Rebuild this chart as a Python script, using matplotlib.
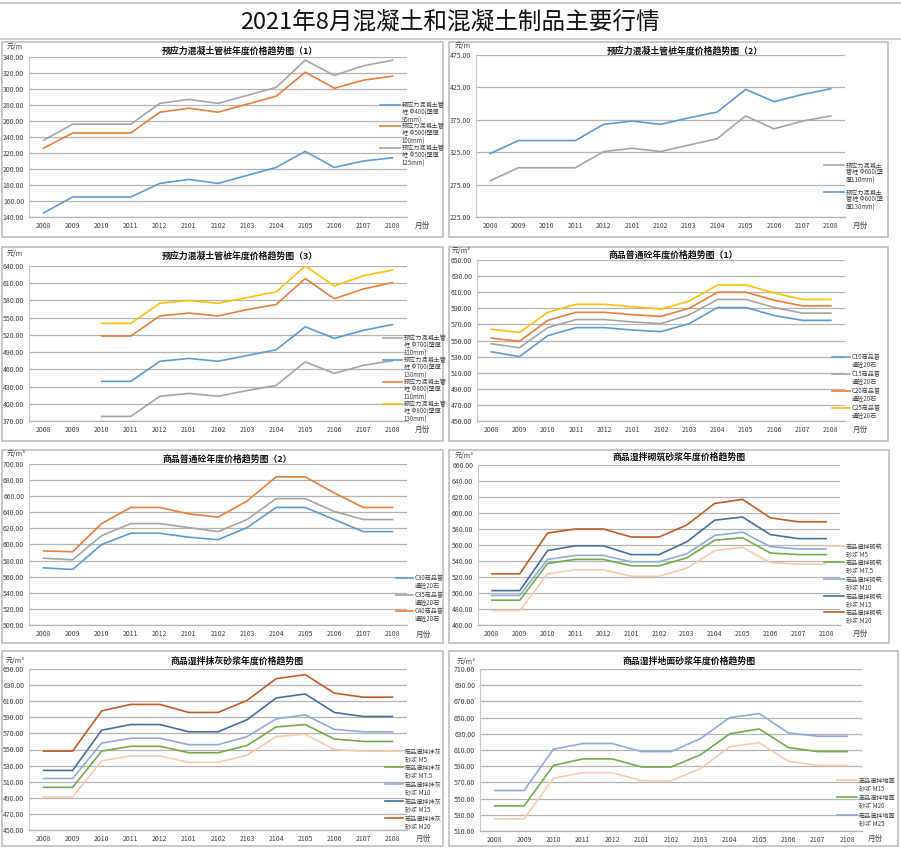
import matplotlib
matplotlib.use("Agg")
import matplotlib.pyplot as plt
from matplotlib.lines import Line2D
from matplotlib.patches import Rectangle
import numpy as np

plt.rcParams['font.family'] = ['Noto Sans CJK SC', 'DejaVu Sans']

# ---------------------------------------------------------------- data
months = ['2008', '2009', '2010', '2011', '2012', '2101', '2102',
          '2103', '2104', '2105', '2106', '2107', '2108']

# 预应力混凝土管桩年度价格趋势图（1）
pile1_names = ['预应力混凝土管\n桩 Φ400(壁厚\n95mm)',
               '预应力混凝土管\n桩 Φ500(壁厚\n100mm)',
               '预应力混凝土管\n桩 Φ500(壁厚\n125mm)']
pile_d400_95 = [145, 165, 165, 165, 182, 187, 182, 192, 202, 222, 202, 210, 214]
pile_d500_100 = [226, 245, 245, 245, 271, 276, 271, 281, 291, 321, 301, 311, 316]
pile_d500_125 = [236, 256, 256, 256, 282, 287, 282, 292, 302, 336, 317, 329, 336]

# 预应力混凝土管桩年度价格趋势图（2）
pile2_names = ['预应力混凝土\n管桩 Φ600(壁\n厚110mm)',
               '预应力混凝土\n管桩 Φ600(壁\n厚130mm)']
pile_d600_110 = [281, 301, 301, 301, 326, 331, 326, 336, 346, 381, 361, 373, 381]
pile_d600_130 = [323, 343, 343, 343, 368, 373, 368, 378, 387, 422, 403, 414, 423]

# 预应力混凝土管桩年度价格趋势图（3）
pile3_names = ['预应力混凝土管\n桩 Φ700(壁厚\n110mm)',
               '预应力混凝土管\n桩 Φ700(壁厚\n130mm)',
               '预应力混凝土管\n桩 Φ800(壁厚\n110mm)',
               '预应力混凝土管\n桩 Φ800(壁厚\n130mm)']
nan = np.nan
pile_d700_110 = [nan, nan, 378, 378, 413, 418, 413, 423, 432, 473, 453, 467, 475]
pile_d700_130 = [nan, nan, 439, 439, 474, 479, 474, 484, 494, 534, 514, 528, 538]
pile_d800_110 = [nan, nan, 518, 518, 553, 558, 553, 564, 573, 618, 583, 600, 611]
pile_d800_130 = [nan, nan, 540, 540, 575, 580, 575, 585, 595, 640, 605, 623, 633]

# 商品普通砼年度价格趋势图（1）
conc1_names = ['C10商品普\n通砼20石', 'C15商品普\n通砼20石',
               'C20商品普\n通砼20石', 'C25商品普\n通砼20石']
conc_c10 = [536, 530, 556, 566, 566, 563, 561, 571, 591, 591, 581, 575, 575]
conc_c15 = [546, 541, 566, 576, 576, 573, 571, 582, 601, 601, 591, 584, 584]
conc_c20 = [553, 549, 575, 585, 585, 582, 580, 590, 610, 610, 600, 593, 593]
conc_c25 = [564, 560, 585, 595, 595, 592, 589, 599, 619, 619, 609, 601, 601]

# 商品普通砼年度价格趋势图（2）
conc2_names = ['C30商品普\n通砼20石', 'C35商品普\n通砼20石', 'C40商品普\n通砼20石']
conc_c30 = [571, 569, 600, 614, 614, 609, 606, 621, 646, 646, 631, 616, 616]
conc_c35 = [583, 581, 611, 626, 626, 621, 616, 631, 657, 657, 641, 631, 631]
conc_c40 = [592, 591, 626, 646, 646, 638, 634, 654, 684, 684, 664, 646, 646]

# 商品湿拌砌筑砂浆年度价格趋势图
mason_names = ['商品湿拌砌筑\n砂浆 M5', '商品湿拌砌筑\n砂浆 M7.5', '商品湿拌砌筑\n砂浆 M10',
               '商品湿拌砌筑\n砂浆 M15', '商品湿拌砌筑\n砂浆 M20']
mason_m5 = [478, 478, 524, 529, 529, 521, 521, 531, 553, 557, 538, 536, 536]
mason_m75 = [491, 491, 537, 542, 542, 534, 534, 544, 566, 569, 550, 548, 548]
mason_m10 = [497, 497, 542, 547, 547, 539, 539, 549, 572, 576, 558, 555, 555]
mason_m15 = [503, 503, 553, 559, 559, 548, 548, 564, 591, 595, 573, 568, 568]
mason_m20 = [524, 524, 575, 580, 580, 570, 570, 585, 612, 617, 594, 589, 589]

# 商品湿拌抹灰砂浆年度价格趋势图
plaster_names = ['商品湿拌抹灰\n砂浆 M5', '商品湿拌抹灰\n砂浆 M7.5', '商品湿拌抹灰\n砂浆 M10',
                 '商品湿拌抹灰\n砂浆 M15', '商品湿拌抹灰\n砂浆 M20']
plaster_m5 = [491, 491, 536, 542, 542, 534, 534, 543, 566, 569, 550, 548, 548]
plaster_m75 = [503, 503, 548, 554, 554, 546, 546, 555, 578, 581, 563, 560, 560]
plaster_m10 = [514, 514, 558, 564, 564, 556, 556, 566, 588, 593, 575, 572, 572]
plaster_m15 = [524, 524, 574, 581, 581, 572, 572, 587, 614, 619, 596, 591, 591]
plaster_m20 = [548, 548, 598, 606, 606, 596, 596, 611, 638, 643, 620, 615, 615]

# 商品湿拌地面砂浆年度价格趋势图
floor_names = ['商品湿拌地面\n砂浆 M15', '商品湿拌地面\n砂浆 M20', '商品湿拌地面\n砂浆 M25']
floor_m15 = [525, 525, 575, 582, 582, 572, 572, 587, 614, 619, 596, 591, 591]
floor_m20 = [541, 541, 591, 599, 599, 589, 589, 604, 630, 636, 613, 608, 608]
floor_m25 = [560, 560, 611, 618, 618, 608, 608, 624, 650, 655, 631, 627, 627]

# ---------------------------------------------------------------- colours
BLUE, ORANGE, GRAY, YELLOW = '#5B9BD5', '#ED7D31', '#A5A5A5', '#FFC000'
PINK, GREEN, LAV, DBLUE, BROWN = '#F8CBAD', '#70AD47', '#8FAADC', '#41719C', '#C65A20'

W, H = 901, 860
fig = plt.figure(figsize=(W / 100, H / 100), dpi=100)


def fx(x):
    return x / W


def fy(y):
    return 1 - y / H


# sheet lines and main title
for yy in (3, 39):
    fig.add_artist(Line2D([0, 1], [fy(yy), fy(yy)], transform=fig.transFigure,
                          color='#c8c8c8', lw=1.2))
fig.text(fx(450), fy(22), '2021年8月混凝土和混凝土制品主要行情', ha='center', va='center',
         fontsize=17, color='#111111')


def panel(frame, area, title, title_x, title_y, unit, unit_pos, series, names, colors,
          ylim, ystep, leg, month_pos):
    # chart border
    l, t, r, b = frame
    fig.add_artist(Rectangle((fx(l), fy(b)), fx(r - l), (b - t) / H, transform=fig.transFigure,
                             fill=False, edgecolor='#bfbfbf', lw=1.2))
    l, t, r, b = area
    ax = fig.add_axes([fx(l), fy(b), fx(r - l), (b - t) / H])
    x = np.arange(len(months))
    for s, c in zip(series, colors):
        ax.plot(x, s, color=c, lw=1.2, zorder=3)
    ax.set_xlim(-0.5, len(months) - 0.5)
    ax.set_ylim(*ylim)
    yt = np.arange(ylim[0], ylim[1] + 0.1, ystep)
    ax.set_yticks(yt)
    ax.set_yticklabels(['%.2f' % v for v in yt])
    ax.set_xticks(x)
    ax.set_xticklabels(months)
    ax.tick_params(length=0, labelsize=5, colors='#404040', pad=3.5)
    ax.grid(axis='y', color='#b4b4b4', lw=0.9, zorder=0)
    for side in ('top', 'right'):
        ax.spines[side].set_visible(False)
    ax.spines['left'].set_color('#c8c8c8')
    ax.spines['left'].set_linewidth(0.8)
    ax.spines['bottom'].set_color('#b4b4b4')
    ax.spines['bottom'].set_linewidth(0.9)
    ax.patch.set_alpha(0)

    fig.text(fx(title_x), fy(title_y), title, ha='center', va='center', fontsize=6.4,
             fontweight='bold', color='#111111')
    fig.text(fx(unit_pos[0]), fy(unit_pos[1]), unit, ha='left', va='center', fontsize=5,
             color='#404040')
    fig.text(fx(month_pos[0]), fy(month_pos[1]), '月份', ha='center', va='center',
             fontsize=5.5, color='#404040')

    # legend, line at the first text row like Excel
    x0, x1, xt, ys = leg
    for name, c, yy in zip(names, colors, ys):
        fig.add_artist(Line2D([fx(x0), fx(x1)], [fy(yy), fy(yy)], transform=fig.transFigure,
                              color=c, lw=1.2))
        fig.text(fx(xt), fy(yy - 3.5), name, ha='left', va='top', fontsize=4.4,
                 color='#404040', linespacing=0.92)
    return ax


panel((2, 42, 443, 237), (29, 57, 407, 217), '预应力混凝土管桩年度价格趋势图（1）', 240, 51,
      '元/m', (7, 47), [pile_d400_95, pile_d500_100, pile_d500_125], pile1_names,
      [BLUE, ORANGE, GRAY], (140, 340), 20, (380, 400, 402, [105, 126, 148]), (422, 226))

panel((449, 42, 888, 237), (476, 55, 845, 217), '预应力混凝土管桩年度价格趋势图（2）', 685, 51,
      '元/m', (455, 46), [pile_d600_110, pile_d600_130], pile2_names,
      [GRAY, BLUE], (225, 475), 50, (824, 844, 846, [165, 192]), (860, 226))

panel((2, 247, 443, 441), (29, 266, 407, 421), '预应力混凝土管桩年度价格趋势图（3）', 240, 256,
      '元/m', (7, 254), [pile_d700_110, pile_d700_130, pile_d800_110, pile_d800_130], pile3_names,
      [GRAY, BLUE, ORANGE, YELLOW], (370, 640), 30, (383, 402, 404, [338, 360, 382, 404]),
      (422, 430))

panel((449, 247, 888, 441), (477, 260, 845, 421), '商品普通砼年度价格趋势图（1）', 673, 255,
      '元/m³', (452, 251), [conc_c10, conc_c15, conc_c20, conc_c25], conc1_names,
      [BLUE, GRAY, ORANGE, YELLOW], (450, 650), 20, (832, 850, 852, [357, 374, 391, 408]),
      (860, 430))

panel((2, 450, 443, 643), (29, 464, 407, 625), '商品普通砼年度价格趋势图（2）', 227, 459,
      '元/m³', (7, 454), [conc_c30, conc_c35, conc_c40], conc2_names,
      [BLUE, GRAY, ORANGE], (500, 700), 20, (396, 413, 415, [578, 595, 611]), (423, 635))

panel((449, 450, 889, 643), (478, 465, 840, 625), '商品湿拌砌筑砂浆年度价格趋势图', 679, 457,
      '元/m³', (455, 456), [mason_m5, mason_m75, mason_m10, mason_m15, mason_m20], mason_names,
      [PINK, GREEN, LAV, DBLUE, BROWN], (460, 660), 20,
      (824, 844, 846, [546, 562, 579, 596, 612]), (860, 634))

panel((2, 651, 443, 846), (29, 669, 407, 830), '商品湿拌抹灰砂浆年度价格趋势图', 237, 661,
      '元/m³', (6, 661), [plaster_m5, plaster_m75, plaster_m10, plaster_m15, plaster_m20],
      plaster_names, [PINK, GREEN, LAV, DBLUE, BROWN], (450, 650), 20,
      (385, 403, 405, [751, 767, 784, 801, 818]), (423, 839))

panel((449, 651, 898, 846), (480, 669, 862, 831), '商品湿拌地面砂浆年度价格趋势图', 689, 661,
      '元/m³', (457, 662), [floor_m15, floor_m20, floor_m25], floor_names,
      [PINK, GREEN, LAV], (510, 710), 20, (837, 857, 859, [780, 797, 815]), (875, 839))

fig.savefig('out.png', dpi=100)
